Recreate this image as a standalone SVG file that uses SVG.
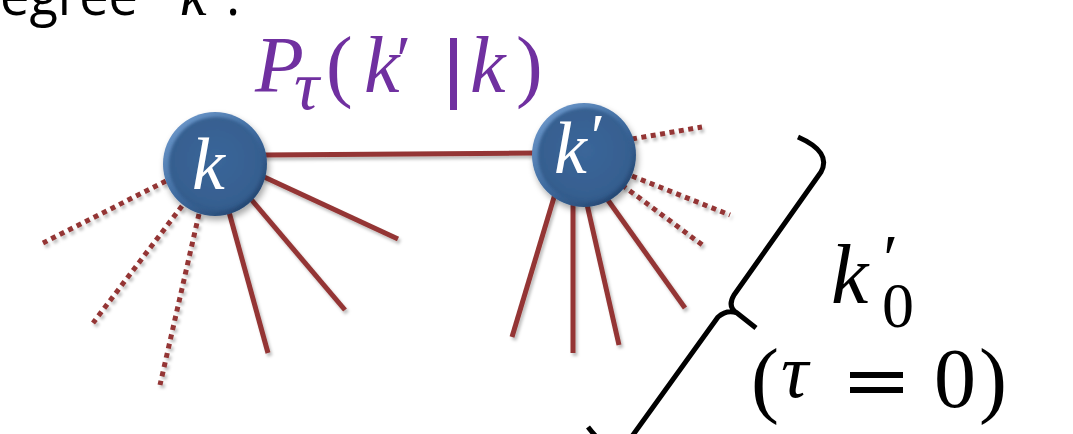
<svg xmlns="http://www.w3.org/2000/svg" width="1073" height="434" viewBox="0 0 1073 434">
  <defs>
    <filter id="lsh" x="-20%" y="-20%" width="140%" height="140%">
      <feDropShadow dx="2" dy="3" stdDeviation="1.8" flood-color="#000" flood-opacity="0.25"/>
    </filter>
    <filter id="nsh" x="-30%" y="-30%" width="160%" height="160%">
      <feDropShadow dx="2" dy="4" stdDeviation="3" flood-color="#000" flood-opacity="0.35"/>
    </filter>
    <filter id="soft" x="-20%" y="-20%" width="140%" height="140%">
      <feGaussianBlur stdDeviation="1.5"/>
    </filter>
    <linearGradient id="rim" x1="0.15" y1="0.1" x2="0.85" y2="0.95">
      <stop offset="0" stop-color="#6A95C8"/>
      <stop offset="0.5" stop-color="#3E6A9E"/>
      <stop offset="1" stop-color="#23446E"/>
    </linearGradient>
    <radialGradient id="face" cx="0.5" cy="0.45" r="0.55">
      <stop offset="0" stop-color="#3A6699"/>
      <stop offset="0.85" stop-color="#365F90"/>
      <stop offset="1" stop-color="#315A8A"/>
    </radialGradient>
  </defs>
  <style>
    .solid { stroke: #943634; stroke-width: 5; fill: none; }
    .dot { stroke: #943634; stroke-width: 5; fill: none; stroke-dasharray: 5 4.5; }
    .math { font-family: "Liberation Serif", "DejaVu Serif", serif; font-style: italic; }
    .up { font-style: normal; }
    .it { font-style: italic; }
    .purple { fill: #7030A0; }
    .lbl { fill: #FFFFFF; }
    .blk { fill: #000000; }
  </style>

  <g id="caption" class="blk">
    <text y="15" font-family="Open Sans, Liberation Sans, sans-serif" font-size="54"><tspan x="0" textLength="138" lengthAdjust="spacingAndGlyphs">egree</tspan><tspan x="180" font-size="60" font-family="Liberation Serif, serif" class="it">k</tspan><tspan x="226">.</tspan></text>
  </g>

  <g id="connectors" filter="url(#lsh)">
    <line class="solid" x1="262" y1="155" x2="537" y2="153"/>
    <line class="solid" x1="262" y1="176" x2="398" y2="239"/>
    <line class="solid" x1="250" y1="198" x2="345" y2="310"/>
    <line class="solid" x1="229" y1="212" x2="268" y2="353"/>
    <line class="dot" x1="166" y1="181" x2="43" y2="243"/>
    <line class="dot" x1="182" y1="206" x2="93" y2="323"/>
    <line class="dot" x1="199" y1="214" x2="160" y2="385"/>
    <line class="solid" x1="555" y1="194" x2="512" y2="337"/>
    <line class="solid" x1="573" y1="200" x2="573" y2="353"/>
    <line class="solid" x1="586" y1="200" x2="619" y2="345"/>
    <line class="solid" x1="605" y1="196" x2="685" y2="308"/>
    <line class="dot" x1="632" y1="139" x2="702" y2="127"/>
    <line class="dot" x1="632" y1="176" x2="730" y2="215"/>
    <line class="dot" x1="622" y1="185" x2="705" y2="247"/>
  </g>

  <g id="node-k">
    <circle cx="215" cy="164" r="52" fill="url(#rim)" filter="url(#nsh)"/>
    <circle cx="216" cy="164" r="47" fill="url(#face)" filter="url(#soft)"/>
    <text x="192" y="189" font-size="74" class="math lbl">k</text>
  </g>

  <g id="node-kp">
    <circle cx="584" cy="155" r="52" fill="url(#rim)" filter="url(#nsh)"/>
    <circle cx="585" cy="155" r="47" fill="url(#face)" filter="url(#soft)"/>
    <text class="math lbl" font-size="74"><tspan x="554" y="173">k</tspan><tspan x="587" y="158" font-size="64">′</tspan></text>
  </g>

  <g id="label-p" class="purple">
    <text class="math" font-size="80"><tspan x="255" y="92">P</tspan><tspan x="294" y="109" font-size="70">τ</tspan><tspan x="326" y="92" class="up">(</tspan><tspan x="364" y="92">k</tspan><tspan x="392" y="82" font-size="68">′</tspan><tspan x="470" y="92">k</tspan><tspan x="516" y="92" class="up">)</tspan></text>
    <rect x="450" y="38" width="7" height="72"/>
  </g>

  <g id="brace">
    <path d="M 798 137 Q 832 152 821 172 L 734 295 Q 727 307 737 313 L 756 328 M 737 313 Q 727 309 718 317 L 625 446 Q 612 458 588 427" fill="none" stroke="#000" stroke-width="5" stroke-linecap="butt" stroke-linejoin="round"/>
  </g>

  <g id="label-k0" class="blk">
    <text class="math" font-size="84"><tspan x="831" y="303">k</tspan><tspan x="879" y="281" font-size="68">′</tspan><tspan x="882" y="327" font-size="64" class="up">0</tspan></text>
    <text class="math" font-size="84"><tspan x="751" y="407" class="up">(</tspan><tspan x="781" y="397" font-size="76">τ</tspan><tspan x="934" y="407" class="up">0</tspan><tspan x="979" y="407" class="up">)</tspan></text>
    <rect x="850" y="372" width="53" height="6"/>
    <rect x="850" y="387" width="53" height="6"/>
  </g>
</svg>
